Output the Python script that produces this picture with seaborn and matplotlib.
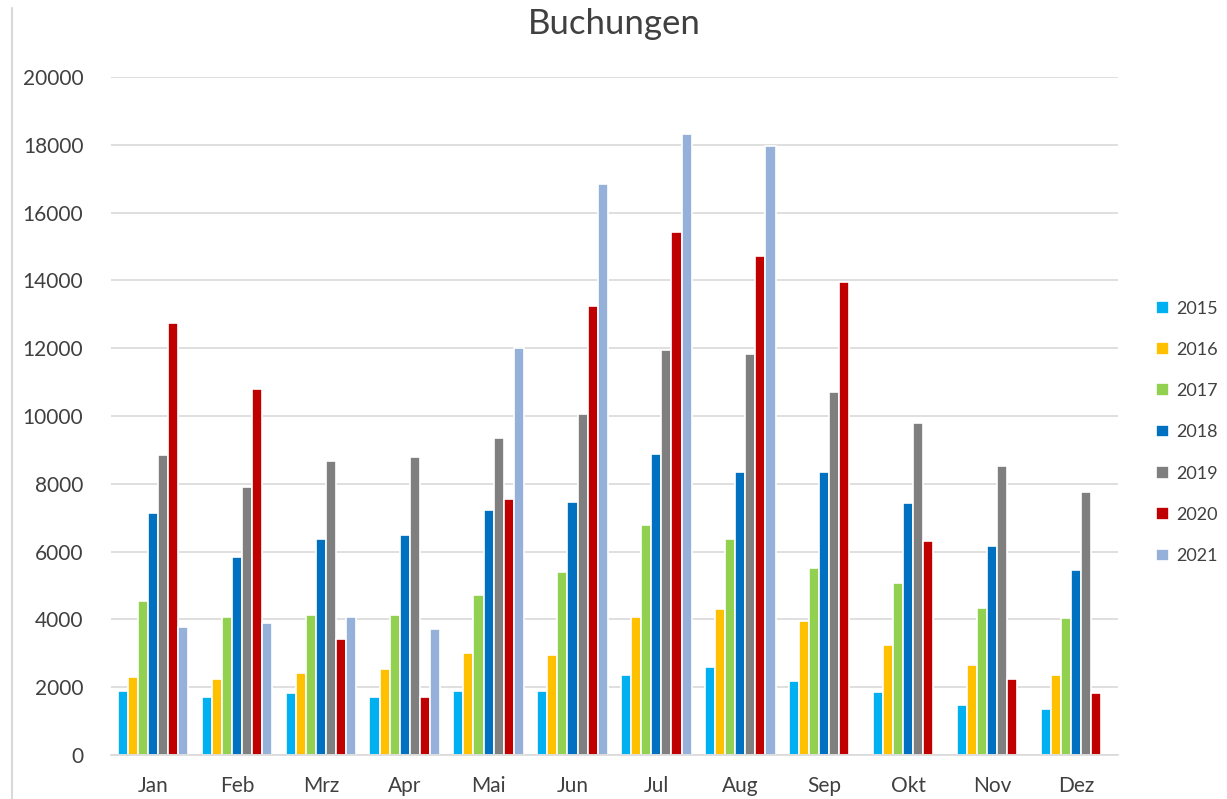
import matplotlib
matplotlib.use("Agg")
import matplotlib.pyplot as plt
from matplotlib.lines import Line2D
import seaborn as sns
import pandas as pd
import numpy as np

# data
months = ['Jan', 'Feb', 'Mrz', 'Apr', 'Mai', 'Jun', 'Jul', 'Aug', 'Sep', 'Okt', 'Nov', 'Dez']
years = ['2015', '2016', '2017', '2018', '2019', '2020', '2021']

y2015 = [1890, 1720, 1830, 1720, 1900, 1900, 2370, 2600, 2190, 1850, 1480, 1370]
y2016 = [2300, 2250, 2420, 2540, 3020, 2960, 4080, 4320, 3960, 3250, 2660, 2350]
y2017 = [4540, 4070, 4130, 4130, 4730, 5390, 6800, 6380, 5510, 5090, 4330, 4030]
y2018 = [7140, 5840, 6370, 6490, 7220, 7460, 8870, 8340, 8340, 7450, 6160, 5450]
y2019 = [8850, 7900, 8680, 8780, 9340, 10060, 11950, 11820, 10700, 9810, 8520, 7750]
y2020 = [12750, 10800, 3420, 1720, 7560, 13250, 15440, 14730, 13960, 6320, 2250, 1840]
y2021 = [3770, 3890, 4070, 3720, 12010, 16850, 18330, 17980, np.nan, np.nan, np.nan, np.nan]

colors = ['#00B0F0', '#FFC000', '#92D050', '#0070C0', '#7F7F7F', '#C00000', '#95B0D9']

series = [y2015, y2016, y2017, y2018, y2019, y2020, y2021]
rows = []
for yr, vals in zip(years, series):
    for m, v in zip(months, vals):
        rows.append({'Monat': m, 'Jahr': yr, 'Buchungen': v})
df = pd.DataFrame(rows)

sns.set_theme(style='white')
plt.rcParams['font.family'] = ['Lato', 'DejaVu Sans']

fig = plt.figure(figsize=(12.27, 7.99), dpi=100)
ax = fig.add_axes([0.0905, 0.055, 0.8205, 0.8485])

sns.barplot(data=df, x='Monat', y='Buchungen', hue='Jahr', order=months,
            hue_order=years, palette=colors, width=0.84, saturation=1,
            edgecolor='white', linewidth=1.2, ax=ax)

ax.set_ylim(0, 20000)
ax.set_yticks(range(0, 20001, 2000))
ax.yaxis.grid(True, color='#D9D9D9', linewidth=1.2)
ax.set_axisbelow(True)
ax.set_xlabel('')
ax.set_ylabel('')
ax.set_title('Buchungen', fontsize=25, color='#404040', pad=31)
ax.tick_params(axis='both', labelsize=15, labelcolor='#404040', length=0)
ax.tick_params(axis='y', pad=20)
ax.tick_params(axis='x', pad=15)
for s in ['top', 'right', 'left']:
    ax.spines[s].set_visible(False)
ax.spines['bottom'].set_color('#D9D9D9')
ax.spines['bottom'].set_linewidth(1.2)

ax.legend(loc='center left', bbox_to_anchor=(1.022, 0.476), frameon=False,
          fontsize=13, labelcolor='#404040', handlelength=0.7, handleheight=0.7,
          handletextpad=0.4, labelspacing=1.4)

fig.add_artist(Line2D([0.01, 0.01], [0.0, 0.99], color='#D9D9D9', linewidth=1.5))

fig.savefig('out.png', dpi=100)
